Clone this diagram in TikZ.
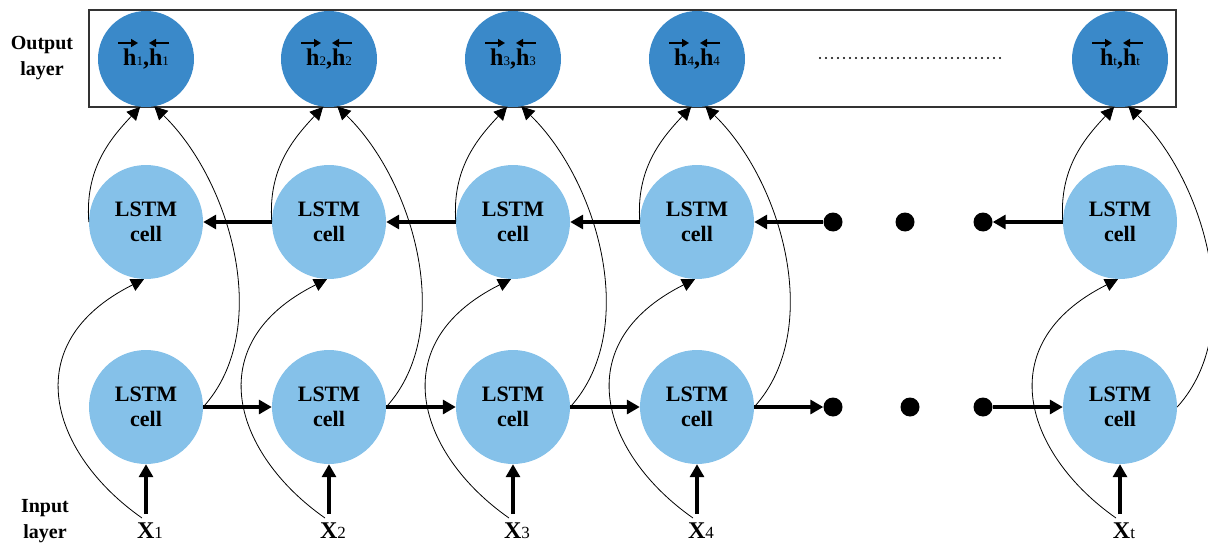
\documentclass[tikz,border=0pt]{standalone}
\usepackage{fontspec}
\setmainfont{Liberation Serif}
\usetikzlibrary{arrows.meta,calc}
\definecolor{outblue}{HTML}{3A89C9}
\definecolor{cellblue}{HTML}{85C1E9}
\newcommand\hsub[1]{{\fontsize{13}{13}\selectfont\mdseries #1}}
\newcommand\xsub[1]{{\fontsize{17}{17}\selectfont\mdseries #1}}
\begin{document}
\begin{tikzpicture}[x=1pt,y=-1pt,
  outnode/.style={circle,fill=outblue,minimum size=96pt,inner sep=0pt,
    font=\fontsize{24}{24}\selectfont\bfseries},
  cellnode/.style={circle,fill=cellblue,minimum size=114pt,inner sep=0pt,
    align=center,font=\fontsize{22}{25}\selectfont\bfseries},
  dotnode/.style={circle,fill=black,minimum size=19pt,inner sep=0pt},
  layertext/.style={align=center,font=\fontsize{20}{26}\selectfont\bfseries},
  inlabel/.style={inner sep=0pt,font=\fontsize{24}{24}\selectfont\bfseries},
  flow/.style={line width=3.2pt,-{Triangle[length=13pt,width=14pt]}},
  skip/.style={line width=0.8pt,-{Triangle[length=13pt,width=13pt]}},
  vec/.style={line width=1.6pt,-{Triangle[length=7pt,width=8pt]}}]
\useasboundingbox (0,0) rectangle (1208,543);

% output layer frame
\draw[line width=1.2pt,black!80] (89,10) rectangle (1176,107);

\node[layertext] (outlab) at (42,58) {Output\\layer};
\node[layertext] (inlab) at (45,521) {Input\\layer};

% columns of the unrolled network
\foreach \i/\cx in {1/146,2/329,3/513,4/697,t/1120}{
  \node[outnode] (o\i) at (\cx,59) {h\hsub{\i},h\hsub{\i}};
  \draw[vec] ($(o\i.center)+(-28,-16)$) -- ++(20,0);
  \draw[vec] ($(o\i.center)+(23,-16)$) -- ++(-20,0);
  \node[cellnode] (t\i) at (\cx,222) {LSTM\\cell};
  \node[cellnode] (b\i) at (\cx,407) {LSTM\\cell};
  \node[inlabel] (x\i) at (\cx+4,531) {X\xsub{\i}};
  \coordinate (in\i) at (\cx,514);
  \coordinate (s\i) at (\cx-4,518);
  \draw[flow] (in\i) -- (b\i.south);
  \draw[skip] (s\i) .. controls +(-90,-63) and +(-130,65) .. (t\i.-92);
  \draw[skip] (b\i.east) .. controls +(70,-77) and +(77,75) .. (o\i.-80);
  \draw[skip] (t\i.west) .. controls +(-4,-53) and +(-30,32) .. (o\i.-97);
}

% ellipsis between column 4 and column t
\node[dotnode] (dt1) at (833,222) {};
\node[dotnode] (dt2) at (905,222) {};
\node[dotnode] (dt3) at (983,222) {};
\node[dotnode] (db1) at (833,407) {};
\node[dotnode] (db2) at (910,407) {};
\node[dotnode] (db3) at (983,407) {};
\coordinate (dl) at (820,58);
\coordinate (dr) at (1000,58);
\draw[line width=2.4pt,dash pattern=on 0pt off 6pt,line cap=round] (dl) -- (dr);

% backward chain (top row)
\draw[flow] (t2.west) -- (t1.east);
\draw[flow] (t3.west) -- (t2.east);
\draw[flow] (t4.west) -- (t3.east);
\draw[flow] (dt1) -- (t4.east);
\draw[flow] (tt.west) -- (dt3);

% forward chain (bottom row)
\draw[flow] (b1.east) -- (b2.west);
\draw[flow] (b2.east) -- (b3.west);
\draw[flow] (b3.east) -- (b4.west);
\draw[flow] (b4.east) -- (db1);
\draw[flow] (db3) -- (bt.west);
\end{tikzpicture}
\end{document}
